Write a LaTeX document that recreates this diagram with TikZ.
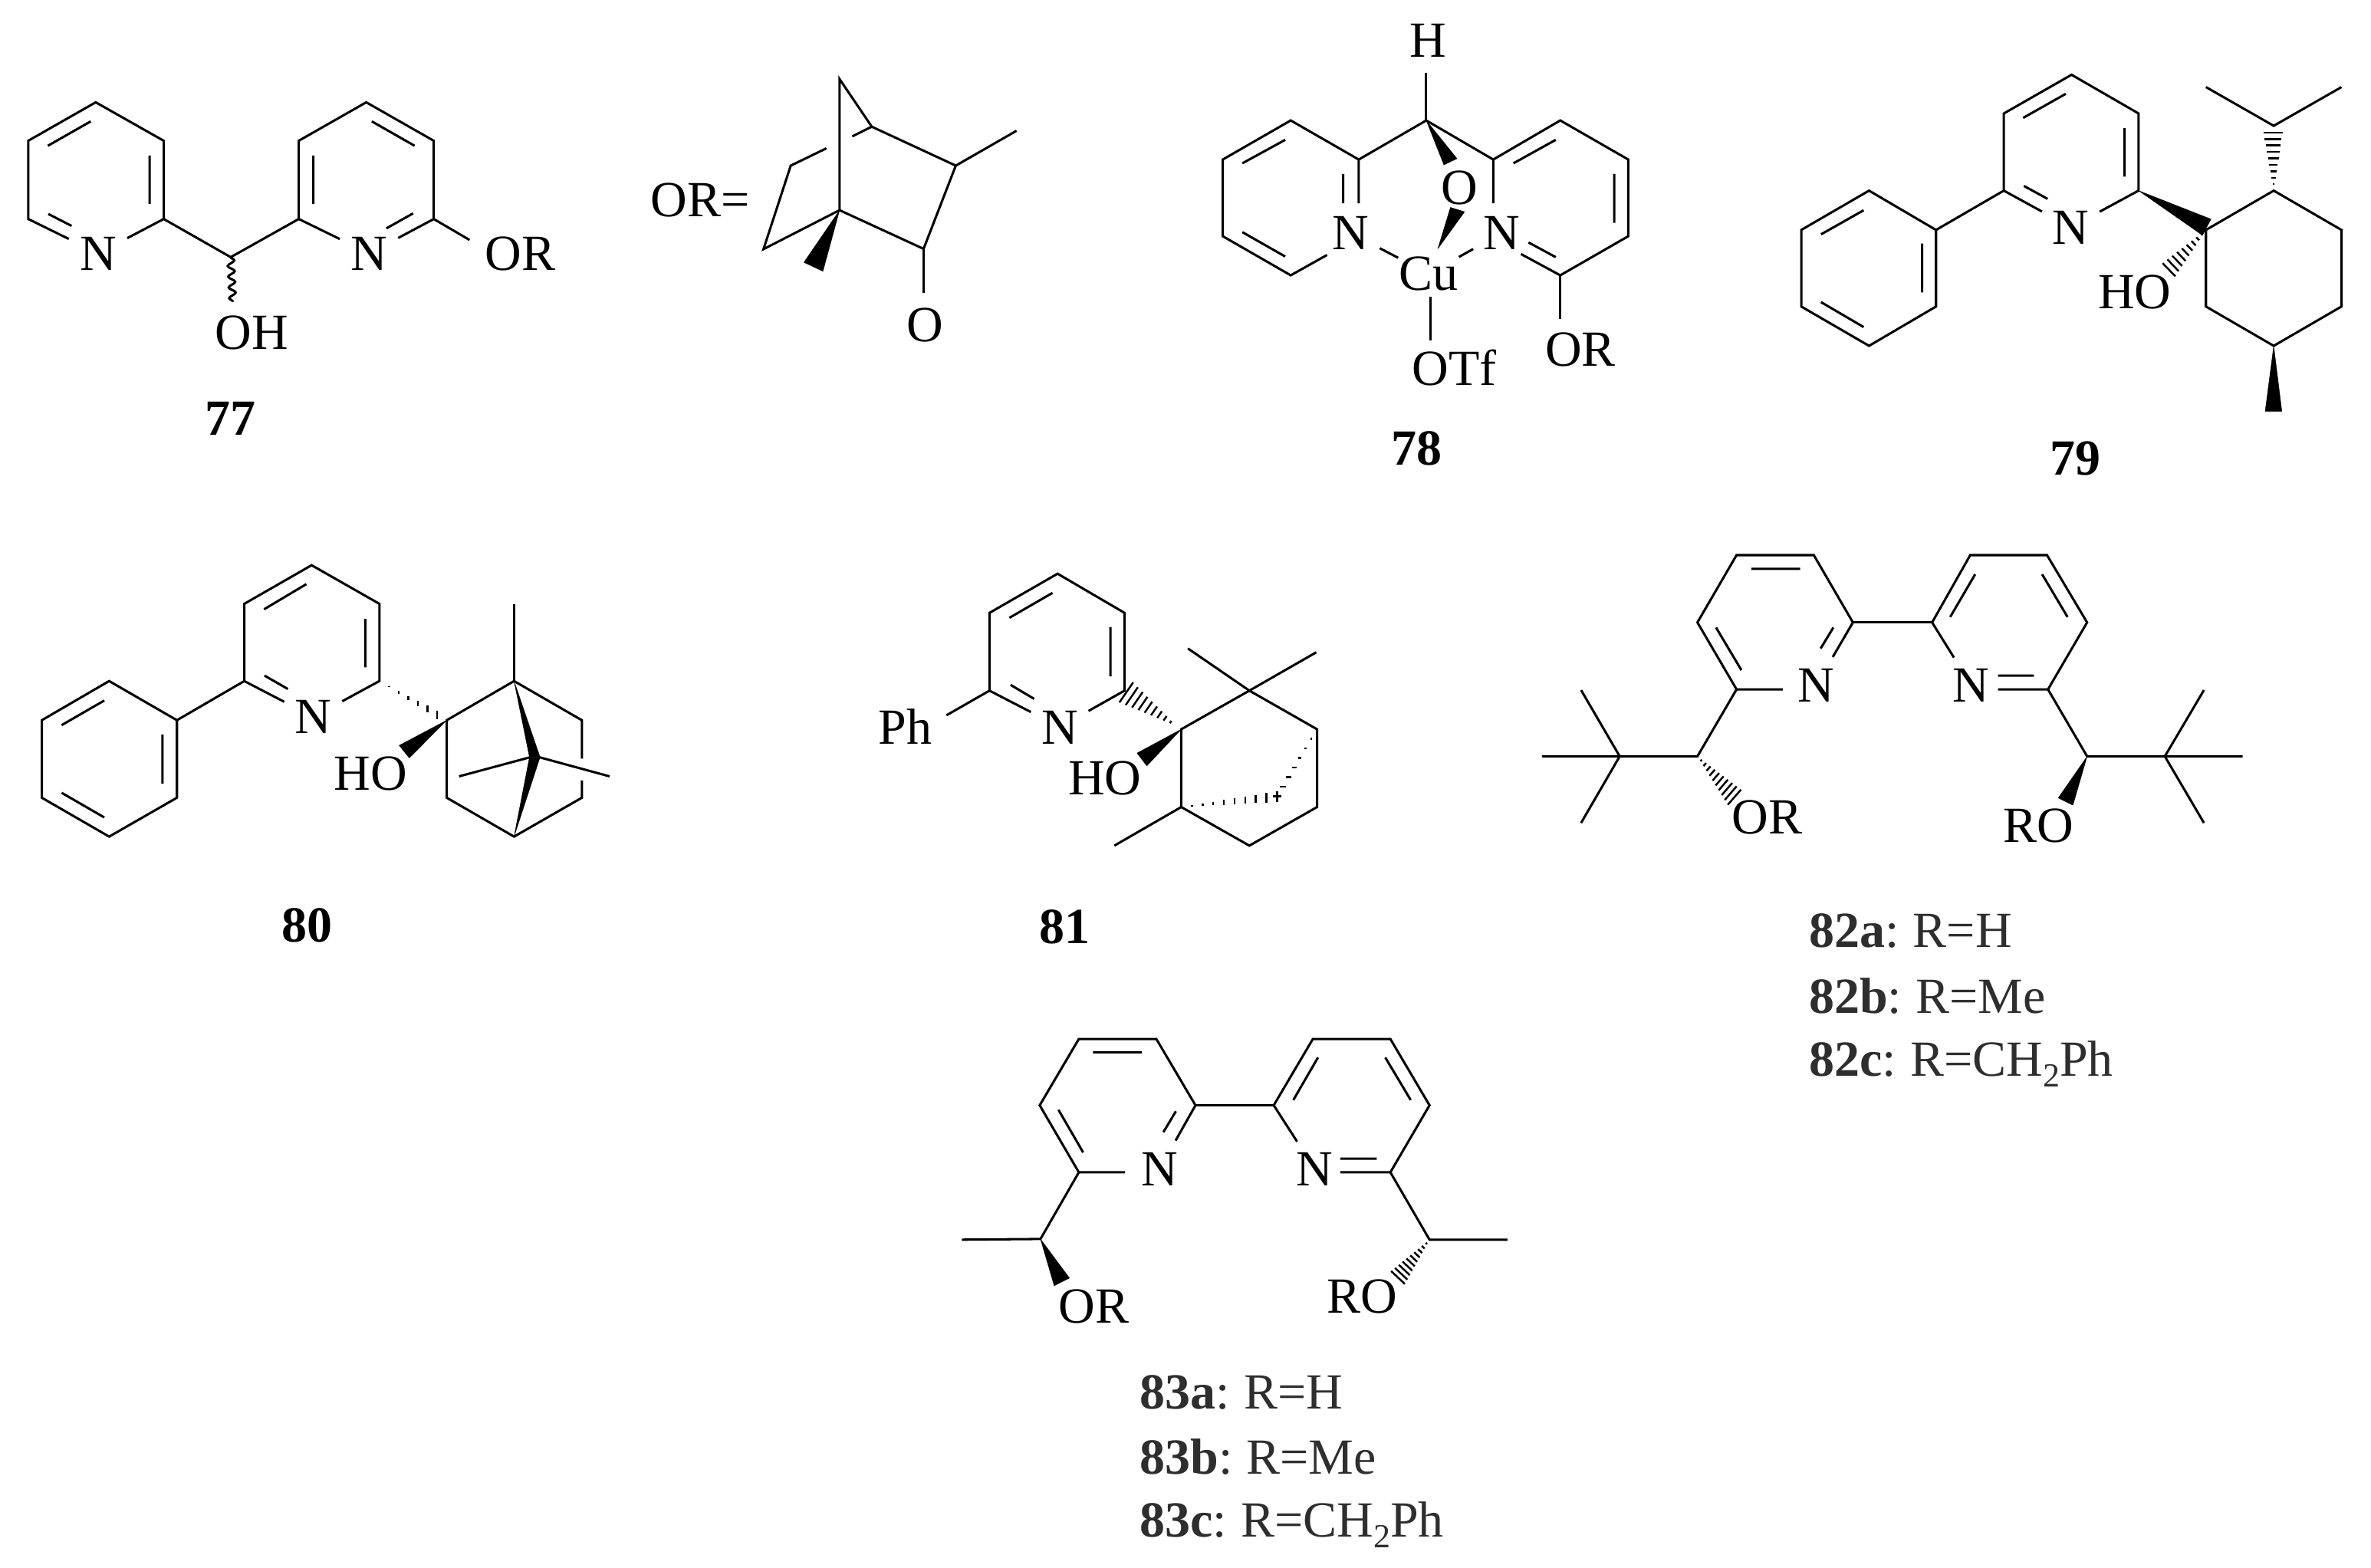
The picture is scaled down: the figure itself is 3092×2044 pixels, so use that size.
\documentclass[tikz,border=0pt]{standalone}
\usepackage{fontspec}
\setmainfont{Liberation Serif}
\usetikzlibrary{calc,decorations.pathmorphing}
\newcommand\labfont{\fontsize{16.5}{18}\selectfont}
\newcommand\pts[2]{\foreach \n/\x/\y in {#2}{\coordinate (#1\n) at (\x,\y);}}
\newcommand\hsh[4]{\foreach \i in {1,...,#4}{\draw[hashline] ($(#1)!\i/#4!(#2)$) -- ($(#1)!\i/#4!(#3)$);}}
\newcommand\wdg[3]{\fill[wedgefill] (#1) -- (#2) -- (#3) -- cycle;}
\newcommand\subtwo{\raisebox{-3.6pt}{\fontsize{11}{11}\selectfont 2}}
\newcommand\gp{\hspace{4.6pt}}
\tikzset{
  bond/.style={line width=0.76pt,line join=miter,black},
  hashline/.style={line width=0.62pt,black},
  wedgefill/.style={fill=black,draw=black,line width=0.1pt,line join=round},
  atom/.style={circle,minimum size=21pt,inner sep=0pt,font=\labfont,text height=10.9pt,text depth=0pt},
  lab/.style={inner sep=0pt,font=\labfont,text height=10.9pt,text depth=0pt},
  cpd/.style={inner sep=0pt,font=\labfont\bfseries,text height=10.9pt,text depth=0pt},
  listlab/.style={inner sep=0pt,anchor=base west,font=\labfont,text=black!82},
  wavy/.style={line width=0.76pt,decorate,decoration={snake,segment length=3.5pt,amplitude=1.1pt}}
}
\begin{document}
\begin{tikzpicture}[x=0.25pt,y=-0.25pt]
\useasboundingbox (0,0) rectangle (3092,2044);
\fill[white] (0,0) rectangle (3092,2044);

% ---------- 77
\begin{scope}[shift={(0,0)},x=0.16425pt,y=-0.102pt]
\pts{a}{1/190/327,2/325/450,3/325/700,4/56/700,5/56/450}
\pts{b}{1/727/327,2/861/450,3/861/700,4/593/700,5/593/450}
\coordinate (c77) at (458,822);
\coordinate (w77) at (462,965);
\coordinate (or77e) at (932,767);
\node[atom] (N77a) at (195,810) {N};
\node[atom] (N77b) at (733,810) {N};
\node[lab] (OR77) at (1033,810) {OR};
\node[lab] (OH77) at (500,1062) {OH};
\node[cpd] (L77) at (457,1337) {77};
\draw[bond] (a3)--(a2)--(a1)--(a5)--(a4)--(N77a);
\draw[bond] (a3)--(N77a);
\draw[bond] (a3)--(c77)--(b4);
\draw[bond] (b4)--(b5)--(b1)--(b2)--(b3)--(N77b);
\draw[bond] (b4)--(N77b);
\draw[bond] (b3)--(or77e);
\draw[wavy] (c77)--(w77);
\draw[bond] (95,466)--(180,388) (297,497)--(297,652) (96,684)--(142,722);
\draw[bond] (622,497)--(622,652) (738,388)--(823,466) (820,682)--(767,730);
\end{scope}

% ---------- OR=
\begin{scope}[shift={(840,60)},x=0.0861pt,y=-0.083pt]
\pts{g}{1/740/130,2/862/317,3/1180/470,4/1410/333,5/1058/797,6/740/645,7/452/798,8/555/470,9/690/402,10/788/355,11/1058/970,12/605/850,13/677/885}
\node[lab] (ORdef) at (212,605) {OR=};
\node[lab] (Ox) at (1065,1095) {O};
\draw[bond] (g6)--(g1)--(g2)--(g3)--(g5)--(g6)--(g7)--(g8)--(g9);
\draw[bond] (g10)--(g2);
\draw[bond] (g3)--(g4);
\draw[bond] (g5)--(g11);
\wdg{g6}{g12}{g13}
\end{scope}

% ---------- 78
\begin{scope}[shift={(1540,0)},x=0.16425pt,y=-0.102pt]
\pts{e}{1/353/510,2/218/385,3/83/510,4/83/755,5/218/880,6/353/650,7/290/815}
\pts{f}{1/620/510,2/753/385,3/888/510,4/888/755,5/753/880,6/620/650,7/675/812,8/753/1020}
\pts{d}{0/487/385,1/487/232,2/522/527,3/548/507,4/510/795,5/535/663,6/563/677,7/495/948,8/495/1088}
\node[lab] (H78) at (490,130) {H};
\node[lab] (O78) at (553,600) {O};
\node[atom] (N78a) at (337,745) {N};
\node[atom] (N78b) at (637,745) {N};
\node[atom] (Cu78) at (492,875) {Cu};
\node[lab] (OTf78) at (543,1178) {OTf};
\node[lab] (OR78) at (793,1118) {OR};
\node[cpd] (L78) at (468,1433) {78};
\draw[bond] (d1)--(d0);
\draw[bond] (e1)--(d0)--(f1);
\draw[bond] (e6)--(e1)--(e2)--(e3)--(e4)--(e5)--(e7);
\draw[bond] (f6)--(f1)--(f2)--(f3)--(f4)--(f5)--(f7);
\draw[bond] (f5)--(f8);
\draw[bond] (N78a)--(Cu78);
\draw[bond] (N78b)--(Cu78);
\draw[bond] (d7)--(d8);
\wdg{d0}{d2}{d3}
\wdg{d4}{d5}{d6}
\draw[bond] (322,556)--(322,650) (122,522)--(207,447) (122,742)--(207,820);
\draw[bond] (660,522)--(744,447) (860,556)--(860,712) (690,775)--(744,822);
\end{scope}

% ---------- 79
\begin{scope}[shift={(2300,60)},x=0.12625pt,y=-0.09566pt]
\pts{h}{1/795/98,2/620/230,3/620/493,4/968/493,5/968/230}
\pts{i}{1/445/627,2/272/493,3/97/627,4/97/888,5/272/1022,6/445/888}
\pts{j}{1/1142/627,2/1317/493,3/1492/627,4/1492/888,5/1317/1022,6/1142/888,7/1317/272,8/1142/140,9/1492/140}
\pts{k}{1/1155/590,2/1133/645,3/1030/740,4/1063/785,5/1290/295,6/1340/295,7/1295/1245,8/1338/1245}
\node[atom] (N79) at (793,618) {N};
\node[lab] (HO79) at (958,838) {HO};
\node[cpd] (L79) at (805,1405) {79};
\draw[bond] (N79)--(h3)--(h2)--(h1)--(h5)--(h4)--(N79);
\draw[bond] (h3)--(i1);
\draw[bond] (i1)--(i2)--(i3)--(i4)--(i5)--(i6)--cycle;
\draw[bond] (j1)--(j2)--(j3)--(j4)--(j5)--(j6)--cycle;
\draw[bond] (j8)--(j7)--(j9);
\wdg{h4}{k1}{k2}
\wdg{j5}{k7}{k8}
\hsh{j1}{k3}{k4}{9}
\hsh{j2}{k5}{k6}{9}
\draw[bond] (670,245)--(780,163) (932,280)--(932,445) (672,477)--(733,521);
\draw[bond] (148,642)--(258,560) (409,673)--(409,840) (148,873)--(258,958);
\end{scope}

% ---------- 80
\begin{scope}[shift={(0,700)},x=0.1435pt,y=-0.0893pt]
\pts{l}{1/708/104,2/555/245,3/555/527,4/862/527,5/862/245}
\pts{m}{1/402/670,2/248/527,3/95/670,4/95/953,5/248/1095,6/402/953}
\pts{o}{1/1015/670,2/1168/527,3/1322/670,4/1322/953,5/1168/1095,6/1015/953,7/1168/247,8/1322/810,9/1322/890}
\pts{p}{1/1203/805,2/1227/805,3/1205/805,4/1043/875,5/1225/805,6/1385/875,7/907/762,8/930/808,9/862/527,10/993/635,11/993/665}
\node[atom] (N80) at (712,658) {N};
\node[lab] (HO80) at (842,865) {HO};
\node[cpd] (L80) at (697,1418) {80};
\draw[bond] (N80)--(l3)--(l2)--(l1)--(l5)--(l4)--(N80);
\draw[bond] (l3)--(m1);
\draw[bond] (m1)--(m2)--(m3)--(m4)--(m5)--(m6)--cycle;
\draw[bond] (o8)--(o3)--(o2)--(o1)--(o6)--(o5)--(o4)--(o9);
\draw[bond] (o2)--(o7);
\draw[bond] (p3)--(p4);
\draw[bond] (p5)--(p6);
\wdg{o2}{p1}{p2}
\wdg{o5}{p1}{p2}
\wdg{o1}{p7}{p8}
\hsh{p9}{p10}{p11}{6}
\draw[bond] (600,265)--(696,173) (830,300)--(830,477) (601,507)--(654,556);
\draw[bond] (140,688)--(237,598) (369,722)--(369,902) (140,935)--(237,1025);
\end{scope}

% ---------- 81
\begin{scope}[shift={(1100,700)},x=0.1276pt,y=-0.0893pt]
\pts{q}{1/547/135,2/373/278,3/373/562,4/718/562,5/718/278,6/263/652}
\pts{r}{1/863/703,2/1037/562,3/1210/703,4/1210/987,5/1037/1128,6/863/987,7/880/408,8/1208/422,9/692/1128}
\pts{s}{1/750/790,2/775/837,3/850/690,4/705/605,5/740/532,6/1098/948,7/1118/948,8/1108/930,9/1108/968}
\node[atom] (N81) at (553,695) {N};
\node[lab] (Ph81) at (158,695) {Ph};
\node[lab] (HO81) at (668,880) {HO};
\node[cpd] (L81) at (565,1425) {81};
\draw[bond] (N81)--(q3)--(q2)--(q1)--(q5)--(q4)--(N81);
\draw[bond] (q3)--(q6);
\draw[bond] (r1)--(r2)--(r3)--(r4)--(r5)--(r6)--cycle;
\draw[bond] (r7)--(r2)--(r8);
\draw[bond] (r6)--(r9);
\wdg{r1}{s1}{s2}
\hsh{s3}{s4}{s5}{9}
\hsh{r3}{s6}{s7}{7}
\hsh{r6}{s8}{s9}{9}
\draw[bond] (424,296)--(534,205) (682,330)--(682,510) (427,541)--(487,592);
\end{scope}

% ---------- 82
\begin{scope}[shift={(2000,690)},x=0.1594pt,y=-0.118pt]
\pts{t}{1/415/72,2/573/72,3/653/258,4/415/443,5/335/258,6/510/443}
\pts{u}{1/815/258,2/893/72,3/1050/72,4/1132/258,5/1052/443,6/950/443}
\pts{v}{1/335/628,2/176/628,3/17/628,4/97/445,5/97/812,6/397/762,7/424/720}
\pts{w}{1/1132/628,2/1291/628,3/1450/628,4/1371/445,5/1371/812,6/1073/743,7/1103/763}
\node[atom] (N82a) at (578,432) {N};
\node[atom] (N82b) at (895,432) {N};
\node[lab] (OR82) at (478,795) {OR};
\node[lab] (RO82) at (1033,820) {RO};
\draw[bond] (N82a)--(t3)--(t2)--(t1)--(t5)--(t4)--(t6);
\draw[bond] (t3)--(u1);
\draw[bond] (N82b)--(u1)--(u2)--(u3)--(u4)--(u5)--(u6);
\draw[bond] (t4)--(v1)--(v2)--(v3);
\draw[bond] (v4)--(v2)--(v5);
\draw[bond] (u5)--(w1)--(w2)--(w3);
\draw[bond] (w4)--(w2)--(w5);
\hsh{v1}{v6}{v7}{10}
\wdg{w1}{w6}{w7}
\draw[bond] (445,110)--(545,110) (373,272)--(425,390) (613,272)--(587,330);
\draw[bond] (1023,405)--(950,405) (852,243)--(903,125) (1040,125)--(1092,243);
\node[listlab] (L82a) at (562,1156) {\textbf{82a}:\gp R=H};
\node[listlab] (L82b) at (562,1337) {\textbf{82b}:\gp R=Me};
\node[listlab] (L82c) at (562,1511) {\textbf{82c}:\gp R=CH\subtwo Ph};
\end{scope}

% ---------- 83
\begin{scope}[shift={(1240,1330)},x=0.1276pt,y=-0.1138pt]
\pts{x}{1/327/55,2/525/55,3/625/245,4/327/437,5/227/245,6/445/437}
\pts{y}{1/825/245,2/925/55,3/1123/55,4/1223/245,5/1123/437,6/995/437}
\pts{z}{1/229/628,2/28/630,3/264/762,4/303/740,5/1223/630,6/1422/630,7/1125/720,8/1160/757}
\node[atom] (N83a) at (533,428) {N};
\node[atom] (N83b) at (930,428) {N};
\node[lab] (OR83) at (365,822) {OR};
\node[lab] (RO83) at (1050,793) {RO};
\draw[bond] (N83a)--(x3)--(x2)--(x1)--(x5)--(x4)--(x6);
\draw[bond] (x3)--(y1);
\draw[bond] (N83b)--(y1)--(y2)--(y3)--(y4)--(y5)--(y6);
\draw[bond] (x4)--(z1)--(z2);
\draw[bond] (y5)--(z5)--(z6);
\wdg{z1}{z3}{z4}
\hsh{z5}{z7}{z8}{10}
\draw[bond] (363,93)--(488,93) (275,258)--(338,380) (575,262)--(543,322);
\draw[bond] (1088,398)--(995,398) (875,230)--(938,108) (1110,108)--(1175,230);
\node[listlab] (L83a) at (481,1114) {\textbf{83a}:\gp R=H};
\node[listlab] (L83b) at (481,1301) {\textbf{83b}:\gp R=Me};
\node[listlab] (L83c) at (481,1481) {\textbf{83c}:\gp R=CH\subtwo Ph};
\end{scope}
\end{tikzpicture}
\end{document}
